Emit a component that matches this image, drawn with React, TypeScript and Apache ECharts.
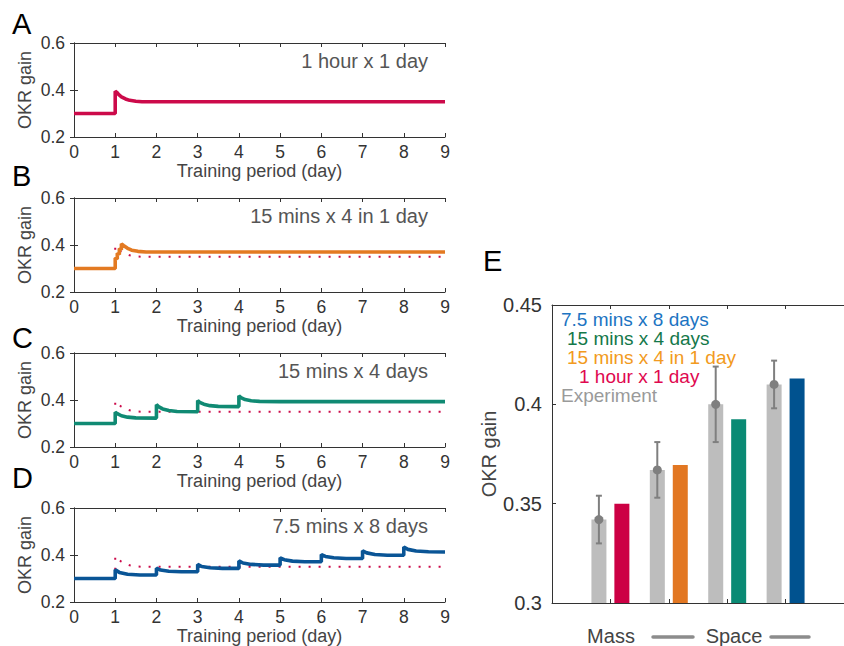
import React, { useEffect, useRef } from "react";
import * as echarts from "echarts";

// ---------- data ----------
const panelLetters = ["A", "B", "C", "D"];
const panelTitles = ["1 hour x 1 day", "15 mins x 4 in 1 day", "15 mins x 4 days", "7.5 mins x 8 days"];
const panelColors = ["#cc0a4a", "#e37a22", "#108a73", "#0a5596"];

// 1 hour x 1 day (also the dotted reference in B–D)
const curveHour: [number, number][] = [
  [0, 0.3], [1, 0.3], [1, 0.395], [1.04, 0.39], [1.08, 0.381], [1.15, 0.371],
  [1.25, 0.362], [1.35, 0.356], [1.5, 0.352], [1.65, 0.35], [9, 0.35],
];
// 15 mins x 4 in 1 day
const curveMass: [number, number][] = [
  [0, 0.3], [1, 0.3], [1, 0.345], [1.05, 0.34], [1.05, 0.365], [1.1, 0.36], [1.1, 0.385],
  [1.15, 0.38], [1.15, 0.405], [1.2, 0.398], [1.3, 0.386], [1.4, 0.378], [1.55, 0.373],
  [1.75, 0.37], [9, 0.37],
];
// 15 mins x 4 days
const curve4Days: [number, number][] = [
  [0, 0.3], [1, 0.3], [1, 0.348], [1.05, 0.342], [1.15, 0.333], [1.3, 0.327], [1.5, 0.324], [2, 0.323],
  [2, 0.38], [2.05, 0.372], [2.15, 0.362], [2.3, 0.355], [2.5, 0.351], [3, 0.35],
  [3, 0.398], [3.05, 0.39], [3.15, 0.382], [3.3, 0.376], [3.5, 0.373], [4, 0.372],
  [4, 0.418], [4.05, 0.41], [4.15, 0.402], [4.3, 0.397], [4.5, 0.394], [5, 0.393], [9, 0.393],
];
// 7.5 mins x 8 days
const curve8Days: [number, number][] = [
  [0, 0.3], [1, 0.3], [1, 0.337], [1.1, 0.326], [1.3, 0.318], [1.6, 0.315], [2, 0.315],
  [2, 0.344], [2.1, 0.336], [2.3, 0.331], [2.6, 0.329], [3, 0.329],
  [3, 0.36], [3.1, 0.351], [3.3, 0.346], [3.6, 0.343], [4, 0.343],
  [4, 0.375], [4.1, 0.366], [4.3, 0.36], [4.6, 0.357], [5, 0.357],
  [5, 0.388], [5.1, 0.38], [5.3, 0.374], [5.6, 0.371], [6, 0.371],
  [6, 0.402], [6.1, 0.394], [6.3, 0.388], [6.6, 0.385], [7, 0.385],
  [7, 0.418], [7.1, 0.409], [7.3, 0.402], [7.6, 0.399], [8, 0.399],
  [8, 0.434], [8.1, 0.424], [8.3, 0.417], [8.6, 0.414], [9, 0.413],
];
const panelCurves = [curveHour, curveMass, curve4Days, curve8Days];

// Panel E
const barGroups = ["1 hour x 1 day", "15 mins x 4 in 1 day", "15 mins x 4 days", "7.5 mins x 8 days"];
const expMean = [0.342, 0.367, 0.4, 0.41];
const expLow = [0.33, 0.353, 0.381, 0.398];
const expHigh = [0.354, 0.381, 0.419, 0.422];
const modelGain = [0.35, 0.3695, 0.3925, 0.413];
const modelColors = ["#cc0044", "#e27722", "#0a8a74", "#00528f"];
const legendTexts = ["7.5 mins x 8 days", "15 mins x 4 days", "15 mins x 4 in 1 day", "1 hour x 1 day", "Experiment"];
const legendColors = ["#1c74c2", "#14784a", "#f29a20", "#e0084f", "#9a9a9a"];
const groupLabels = ["Mass", "Space"];

// ---------- layout constants ----------
const FONT = "Liberation Sans";
const PANEL_TOPS = [43, 198, 353, 508];
const LETTER_Y = [24, 176, 338, 478];
const GRAY_SHIFT = -11.5;

export default function App() {
  const ref = useRef<HTMLDivElement>(null);

  useEffect(() => {
    document.body.style.margin = "0";
    const chart = echarts.init(ref.current!, null, { renderer: "svg" });

    const grids: any[] = [];
    const xAxes: any[] = [];
    const yAxes: any[] = [];
    const series: any[] = [];
    const graphics: any[] = [];

    const axisLine = { show: true, lineStyle: { color: "#333", width: 1 } };
    const tickIn = { show: true, inside: true, length: 4, lineStyle: { color: "#333" } };

    PANEL_TOPS.forEach((top, i) => {
      grids.push({ left: 74, top, width: 371, height: 94 });
      xAxes.push({
        gridIndex: i, type: "value", min: 0, max: 9, interval: 1, position: "bottom",
        axisLine, axisTick: tickIn, splitLine: { show: false },
        axisLabel: { fontSize: 17.5, color: "#333", margin: 6, fontFamily: FONT },
        name: "Training period (day)", nameLocation: "middle", nameGap: 23,
        nameTextStyle: { fontSize: 18, color: "#444", fontFamily: FONT },
      });
      xAxes.push({
        gridIndex: i, type: "value", min: 0, max: 9, interval: 1, position: "top",
        axisLine, axisTick: tickIn, splitLine: { show: false }, axisLabel: { show: false },
      });
      yAxes.push({
        gridIndex: i, type: "value", min: 0.2, max: 0.6, interval: 0.2, position: "left",
        axisLine, axisTick: tickIn, splitLine: { show: false },
        axisLabel: { fontSize: 17.5, color: "#333", margin: 9, fontFamily: FONT, formatter: (v: number) => v.toFixed(1) },
        name: "OKR gain", nameLocation: "middle", nameGap: 40,
        nameTextStyle: { fontSize: 18, color: "#444", fontFamily: FONT },
      });
      yAxes.push({
        gridIndex: i, type: "value", min: 0.2, max: 0.6, interval: 0.2, position: "right",
        axisLine, axisTick: tickIn, splitLine: { show: false }, axisLabel: { show: false },
      });
      if (i > 0) {
        series.push({
          type: "line", xAxisIndex: 2 * i, yAxisIndex: 2 * i, data: curveHour, showSymbol: false,
          lineStyle: { color: "#cc0a4a", width: 2, type: [2, 8], cap: "butt" }, z: 2,
        });
      }
      series.push({
        type: "line", xAxisIndex: 2 * i, yAxisIndex: 2 * i, data: panelCurves[i], showSymbol: false,
        lineStyle: { color: panelColors[i], width: 3.6 }, z: 3,
      });
      graphics.push({
        type: "text", x: 12, y: LETTER_Y[i],
        style: { text: panelLetters[i], fontSize: 29, fill: "#000", fontFamily: FONT, verticalAlign: "middle" },
      });
      graphics.push({
        type: "text", x: 428, y: 61 + 155 * i,
        style: { text: panelTitles[i], fontSize: 20, fill: "#555", fontFamily: FONT, align: "right", verticalAlign: "middle" },
      });
    });

    // Panel E
    const cats = ["", ...barGroups, " "];
    grids.push({ left: 552, top: 305, width: 295, height: 298 });
    xAxes.push({
      gridIndex: 4, type: "category", data: cats, boundaryGap: false, position: "bottom",
      axisLine, axisTick: { ...tickIn, interval: 0 }, axisLabel: { show: false },
    });
    xAxes.push({
      gridIndex: 4, type: "category", data: cats, boundaryGap: false, position: "top",
      axisLine, axisTick: { ...tickIn, interval: 0 }, axisLabel: { show: false },
    });
    yAxes.push({
      gridIndex: 4, type: "value", min: 0.3, max: 0.45, interval: 0.05, position: "left",
      axisLine, axisTick: tickIn, splitLine: { show: false },
      axisLabel: {
        fontSize: 20, color: "#333", margin: 10, fontFamily: FONT,
        formatter: (v: number) => String(Number(v.toFixed(2))),
      },
      name: "OKR gain", nameLocation: "middle", nameGap: 52,
      nameTextStyle: { fontSize: 20, color: "#444", fontFamily: FONT },
    });
    series.push({
      type: "bar", xAxisIndex: 8, yAxisIndex: 8, barWidth: 15, barGap: "53%",
      data: [null, ...expMean, null], itemStyle: { color: "#bdbdbd" }, z: 2,
    });
    series.push({
      type: "bar", xAxisIndex: 8, yAxisIndex: 8, barWidth: 15, barGap: "53%",
      data: [null, ...modelGain.map((v, i) => ({ value: v, itemStyle: { color: modelColors[i] } })), null], z: 2,
    });
    series.push({
      type: "custom", xAxisIndex: 8, yAxisIndex: 8, z: 5,
      encode: { x: 0, y: [1, 2, 3] },
      data: expMean.map((m, i) => [i + 1, m, expLow[i], expHigh[i]]),
      renderItem: (_p: any, api: any) => {
        const xi = api.value(0);
        const mid = api.coord([xi, api.value(1)]);
        const lo = api.coord([xi, api.value(2)]);
        const hi = api.coord([xi, api.value(3)]);
        const x = mid[0] + GRAY_SHIFT;
        const st = { stroke: "#7f7f7f", lineWidth: 2 };
        return {
          type: "group",
          children: [
            { type: "line", shape: { x1: x, y1: hi[1], x2: x, y2: lo[1] }, style: st },
            { type: "line", shape: { x1: x - 3, y1: hi[1], x2: x + 3, y2: hi[1] }, style: st },
            { type: "line", shape: { x1: x - 3, y1: lo[1], x2: x + 3, y2: lo[1] }, style: st },
            { type: "circle", shape: { cx: x, cy: mid[1], r: 4.5 }, style: { fill: "#7f7f7f" } },
          ],
        };
      },
    });

    graphics.push({
      type: "text", x: 483, y: 261,
      style: { text: "E", fontSize: 29, fill: "#000", fontFamily: FONT, verticalAlign: "middle" },
    });
    const legX = [561, 567, 567, 579, 561];
    const legY = [319, 338, 357, 376, 395];
    legendTexts.forEach((t, i) => {
      graphics.push({
        type: "text", x: legX[i], y: legY[i],
        style: { text: t, fontSize: 19, fill: legendColors[i], fontFamily: FONT, verticalAlign: "middle" },
      });
    });
    graphics.push({
      type: "text", x: 611, y: 636,
      style: { text: groupLabels[0], fontSize: 20, fill: "#444", fontFamily: FONT, align: "center", verticalAlign: "middle" },
    });
    graphics.push({
      type: "text", x: 734, y: 636,
      style: { text: groupLabels[1], fontSize: 20, fill: "#444", fontFamily: FONT, align: "center", verticalAlign: "middle" },
    });
    graphics.push({
      type: "line", shape: { x1: 653, y1: 637, x2: 693, y2: 637 },
      style: { stroke: "#8c8c8c", lineWidth: 3.5, lineCap: "round" },
    });
    graphics.push({
      type: "line", shape: { x1: 771, y1: 637, x2: 809, y2: 637 },
      style: { stroke: "#8c8c8c", lineWidth: 3.5, lineCap: "round" },
    });

    chart.setOption({
      animation: false,
      backgroundColor: "#fff",
      textStyle: { fontFamily: FONT },
      grid: grids,
      xAxis: xAxes,
      yAxis: yAxes,
      series,
      graphic: graphics,
    });

    return () => chart.dispose();
  }, []);

  return <div ref={ref} style={{ width: 844, height: 646 }} />;
}
